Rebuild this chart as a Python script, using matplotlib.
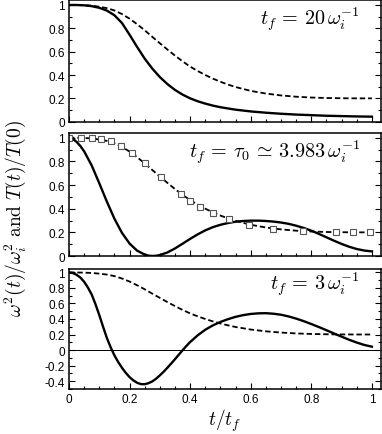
import numpy as np
import matplotlib
matplotlib.use("Agg")
import matplotlib.pyplot as plt
from matplotlib.ticker import MultipleLocator, FuncFormatter

plt.rcParams['font.family'] = ['Liberation Sans', 'DejaVu Sans']
plt.rcParams['mathtext.fontset'] = 'cm'

# ---- data ----
t_dash = [0.0, 0.025, 0.05, 0.075, 0.1, 0.125, 0.15, 0.175, 0.2, 0.225, 0.25,
          0.275, 0.3, 0.325, 0.35, 0.375, 0.4, 0.425, 0.45, 0.475, 0.5, 0.525,
          0.55, 0.6, 0.65, 0.7, 0.75, 0.8, 0.85, 0.9, 0.95, 1.0]
T_ratio = [1.0, 1.0, 0.998, 0.994, 0.985, 0.973, 0.953, 0.922, 0.883, 0.835,
           0.783, 0.727, 0.672, 0.618, 0.566, 0.517, 0.472, 0.434, 0.4, 0.369,
           0.342, 0.318, 0.297, 0.264, 0.241, 0.225, 0.214, 0.207, 0.203,
           0.201, 0.2, 0.2]

t_top = [0.0, 0.025, 0.05, 0.075, 0.1, 0.125, 0.15, 0.175, 0.2, 0.225, 0.25,
         0.275, 0.3, 0.325, 0.35, 0.375, 0.4, 0.425, 0.45, 0.475, 0.5, 0.55,
         0.6, 0.65, 0.7, 0.75, 0.8, 0.85, 0.9, 0.95, 1.0]
w2_top = [1.0, 1.0, 0.997, 0.99, 0.976, 0.952, 0.912, 0.845, 0.745, 0.64,
          0.54, 0.455, 0.382, 0.322, 0.272, 0.232, 0.2, 0.175, 0.155, 0.138,
          0.124, 0.103, 0.088, 0.077, 0.068, 0.061, 0.056, 0.051, 0.048,
          0.045, 0.043]

t_mid = [0.0, 0.0125, 0.025, 0.0375, 0.05, 0.075, 0.1, 0.125, 0.15, 0.175,
         0.2, 0.225, 0.25, 0.2625, 0.275, 0.2875, 0.3, 0.325, 0.35, 0.375,
         0.4, 0.425, 0.45, 0.475, 0.5, 0.525, 0.55, 0.575, 0.6, 0.625, 0.65,
         0.675, 0.7, 0.725, 0.75, 0.775, 0.8, 0.825, 0.85, 0.875, 0.9, 0.925,
         0.95, 0.975, 1.0]
w2_mid = [1.0, 0.99, 0.965, 0.93, 0.885, 0.765, 0.615, 0.46, 0.315, 0.195,
          0.105, 0.045, 0.012, 0.003, 0.0, 0.002, 0.008, 0.03, 0.064, 0.104,
          0.145, 0.183, 0.217, 0.244, 0.264, 0.279, 0.29, 0.296, 0.299, 0.299,
          0.296, 0.291, 0.283, 0.272, 0.256, 0.237, 0.214, 0.187, 0.158,
          0.129, 0.102, 0.078, 0.059, 0.046, 0.039]

t_sq = [0.0, 0.04, 0.075, 0.105, 0.139, 0.172, 0.207, 0.251, 0.303, 0.37,
        0.399, 0.432, 0.476, 0.529, 0.595, 0.674, 0.772, 0.882, 0.938, 0.993]
T_sq = [1.0, 1.0, 0.997, 0.989, 0.97, 0.932, 0.87, 0.783, 0.67, 0.525,
        0.466, 0.415, 0.362, 0.311, 0.263, 0.232, 0.208, 0.2, 0.2, 0.2]

t_bot = [0.0, 0.0125, 0.025, 0.0375, 0.05, 0.0625, 0.075, 0.0875, 0.1, 0.1125,
         0.125, 0.1375, 0.15, 0.1625, 0.175, 0.1875, 0.2, 0.2125, 0.225,
         0.2375, 0.25, 0.2625, 0.275, 0.2875, 0.3, 0.3125, 0.325, 0.3375,
         0.35, 0.3625, 0.375, 0.3875, 0.4, 0.425, 0.45, 0.475, 0.5, 0.525,
         0.55, 0.575, 0.6, 0.625, 0.65, 0.675, 0.7, 0.725, 0.75, 0.775, 0.8,
         0.825, 0.85, 0.875, 0.9, 0.925, 0.95, 0.975, 1.0]
w2_bot = [1.0, 0.993, 0.97, 0.935, 0.88, 0.805, 0.715, 0.59, 0.45, 0.30,
          0.155, 0.035, -0.07, -0.155, -0.23, -0.295, -0.35, -0.392, -0.423,
          -0.44, -0.441, -0.428, -0.405, -0.37, -0.327, -0.28, -0.228,
          -0.174, -0.118, -0.06, -0.003, 0.052, 0.103, 0.19, 0.262, 0.318,
          0.362, 0.398, 0.428, 0.45, 0.465, 0.473, 0.475, 0.468, 0.455,
          0.433, 0.405, 0.372, 0.335, 0.296, 0.255, 0.213, 0.172, 0.132,
          0.096, 0.065, 0.043]

labels = [r'$t_f \,=\, 20\,\omega_i^{-1}$',
          r'$t_f \,=\, \tau_0 \,\simeq\, 3.983\,\omega_i^{-1}$',
          r'$t_f \,=\, 3\,\omega_i^{-1}$']

W, H = 382, 435
fig = plt.figure(figsize=(W / 100, H / 100), dpi=100)

def ax_at(top_px, bot_px):
    return fig.add_axes([69 / W, 1 - bot_px / H, 312 / W, (bot_px - top_px) / H])

axes = [ax_at(0.5, 122.7), ax_at(134, 257), ax_at(270, 390)]
ylims = [(0, 1.047), (0, 1.04), (-0.503, 1.045)]
label_y = [0.84, 0.845, 0.875]

fmt = FuncFormatter(lambda v, p: '%g' % round(v, 2))
for i, ax in enumerate(axes):
    ax.set_xlim(0, 1.03)
    ax.set_ylim(*ylims[i])
    ax.xaxis.set_major_locator(MultipleLocator(0.2))
    ax.xaxis.set_minor_locator(MultipleLocator(0.05))
    ax.yaxis.set_major_locator(MultipleLocator(0.2))
    ax.yaxis.set_minor_locator(MultipleLocator(0.1))
    ax.tick_params(which='both', direction='in', left=True, right=True,
                   top=False, bottom=True, labelsize=8.5, pad=3, width=0.8)
    ax.tick_params(which='major', length=4)
    ax.tick_params(which='minor', length=2.5)
    for s in ax.spines.values():
        s.set_linewidth(1.1)
    ax.yaxis.set_major_formatter(fmt)
    ax.xaxis.set_major_formatter(fmt)
    if i < 2:
        ax.tick_params(labelbottom=False)
    ax.text(0.933, label_y[i], labels[i], transform=ax.transAxes,
            ha='right', va='center', fontsize=14.5)

dash_style = dict(color='black', lw=1.3, ls=(0, (3.0, 1.6)))

axes[0].plot(t_top, w2_top, color='black', lw=1.7)
axes[0].plot(t_dash, T_ratio, **dash_style)

axes[1].plot(t_mid, w2_mid, color='black', lw=1.7)
axes[1].plot(t_dash, T_ratio, **dash_style)
axes[1].plot(t_sq, T_sq, ls='none', marker='s', ms=4.8, mfc='white',
             mec='#555555', mew=0.8)

axes[2].axhline(0, color='black', lw=0.7)
axes[2].plot(t_bot, w2_bot, color='black', lw=1.7)
axes[2].plot(t_dash, T_ratio, **dash_style)

axes[2].set_xlabel(r'$t/t_f$', fontsize=14, labelpad=1)
fig.text(15 / W, 1 - 218 / H,
         r'$\omega^2(t)/\omega_i^2\ \mathrm{and}\ T(t)/T(0)$',
         rotation=90, ha='center', va='center', fontsize=14)

fig.savefig('out.png', dpi=100)
